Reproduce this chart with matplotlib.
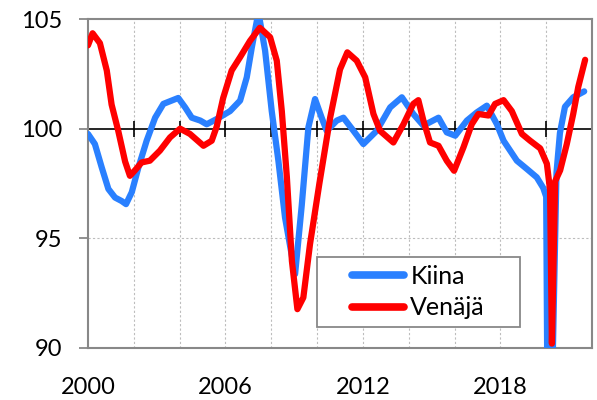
import matplotlib
matplotlib.use("Agg")
import matplotlib.pyplot as plt
from matplotlib.patches import Rectangle

plt.rcParams['font.family'] = ['Lato', 'DejaVu Sans']

# Kiina (China)
kiina_x = [2000.0, 2000.3, 2000.6, 2000.89, 2001.18, 2001.47, 2001.66, 2001.91, 2002.2, 2002.56,
           2002.93, 2003.29, 2003.65, 2003.94, 2004.24, 2004.53, 2004.9, 2005.18, 2005.62, 2006.2,
           2006.64, 2006.93, 2007.15, 2007.44, 2007.73, 2008.02, 2008.31, 2008.6, 2009.04, 2009.33,
           2009.62, 2009.91, 2010.2, 2010.42, 2010.86, 2011.15, 2011.59, 2012.02, 2012.6, 2013.19,
           2013.7, 2014.2, 2014.64, 2015.3, 2015.66, 2016.03, 2016.54, 2016.97, 2017.41, 2017.85,
           2018.14, 2018.72, 2019.16, 2019.59, 2019.87, 2020.0, 2020.1, 2020.45, 2020.6, 2020.82,
           2021.18, 2021.66]
kiina_y = [99.76, 99.3, 98.23, 97.25, 96.86, 96.7, 96.56, 97.1, 98.23, 99.45,
           100.5, 101.13, 101.28, 101.4, 100.97, 100.5, 100.37, 100.2, 100.44, 100.8,
           101.28, 102.34, 103.7, 105.3, 103.56, 100.8, 98.54, 95.95, 93.37, 96.5,
           100.06, 101.35, 100.5, 99.9, 100.37, 100.5, 99.9, 99.3, 99.9, 100.97,
           101.43, 100.67, 100.14, 100.5, 99.83, 99.68, 100.37, 100.74, 101.05, 100.2,
           99.45, 98.54, 98.16, 97.78, 97.3, 96.9, 80.0, 98.0, 99.8, 101.0,
           101.43, 101.7]

# Venäjä (Russia)
venaja_x = [2000.0, 2000.2, 2000.52, 2000.82, 2001.03, 2001.32, 2001.62, 2001.83, 2002.05, 2002.34,
            2002.7, 2003.14, 2003.58, 2004.02, 2004.45, 2005.04, 2005.4, 2005.62, 2005.9, 2006.27,
            2006.64, 2007.07, 2007.5, 2007.95, 2008.24, 2008.46, 2008.68, 2008.9, 2009.14, 2009.4,
            2009.69, 2010.1, 2010.57, 2011.0, 2011.32, 2011.73, 2012.1, 2012.46, 2012.75, 2013.33,
            2013.77, 2014.2, 2014.42, 2014.64, 2014.93, 2015.3, 2015.66, 2015.98, 2016.39, 2016.75,
            2017.04, 2017.48, 2017.77, 2018.14, 2018.5, 2018.94, 2019.3, 2019.74, 2020.03, 2020.17,
            2020.25, 2020.39, 2020.61, 2020.9, 2021.18, 2021.4, 2021.7]
venaja_y = [103.8, 104.35, 103.9, 102.65, 101.1, 99.9, 98.5, 97.85, 98.1, 98.46,
            98.54, 99.0, 99.6, 100.0, 99.76, 99.22, 99.45, 100.1, 101.4, 102.65,
            103.26, 104.0, 104.6, 104.17, 103.1, 100.8, 97.8, 93.97, 91.77, 92.3,
            94.73, 97.5, 100.5, 102.7, 103.48, 103.1, 102.34, 100.67, 99.9, 99.37,
            100.2, 101.13, 101.3, 100.37, 99.37, 99.22, 98.54, 98.08, 99.15, 100.2,
            100.67, 100.6, 101.13, 101.3, 100.8, 99.76, 99.45, 99.1, 98.4, 97.2,
            90.2, 97.6, 98.1, 99.3, 100.67, 101.9, 103.14]

series_names = ["Kiina", "Venäjä"]
series_colors = ["#2a80ff", "#ff0000"]
y_ticks = [90, 95, 100, 105]
x_label_years = [2000, 2006, 2012, 2018]
grid_years = list(range(2002, 2022, 2))
axis_tick_years = list(range(2000, 2023, 2))

fig = plt.figure(figsize=(5.97, 4.0), dpi=100)
ax = fig.add_axes([88/597, 1 - 348/400, 504/597, 329/400])

ax.set_xlim(2000, 2022)
ax.set_ylim(90, 105)

# grid
for gx in grid_years:
    ax.axvline(gx, color='#bdbdbd', lw=0.8, ls=(0, (2, 2)), zorder=0)
ax.axhline(95, color='#bdbdbd', lw=0.8, ls=(0, (2, 2)), zorder=0)

# 100 baseline with ticks
ax.axhline(100, color='black', lw=1.2, zorder=1)
ax.plot(axis_tick_years, [100] * len(axis_tick_years), ls='none', marker='|',
        ms=11, mew=1.2, color='black', zorder=1, clip_on=False)

ax.plot(kiina_x, kiina_y, color=series_colors[0], lw=4.5, label=series_names[0],
        solid_capstyle='round', solid_joinstyle='round', zorder=3)
ax.plot(venaja_x, venaja_y, color=series_colors[1], lw=4.5, label=series_names[1],
        solid_capstyle='round', solid_joinstyle='round', zorder=4)

for s in ax.spines.values():
    s.set_color('#888888')
    s.set_linewidth(1.5)

ax.set_yticks(y_ticks)
ax.set_yticklabels([str(v) for v in y_ticks])
ax.tick_params(axis='y', length=6.5, width=1.3, color='#888888', pad=12, labelsize=17)
ax.set_xticks(x_label_years)
ax.set_xticklabels([str(v) for v in x_label_years])
ax.tick_params(axis='x', length=0, pad=21, labelsize=17)

# legend frame (axes coords)
lx0, ly0, lw, lh = 0.4537, 0.0638, 0.403, 0.213
frame = Rectangle((lx0, ly0), lw, lh, transform=ax.transAxes, facecolor='white',
                  edgecolor='#888888', linewidth=1.3, zorder=6)
ax.add_patch(frame)
leg = ax.legend(loc='center', bbox_to_anchor=(lx0, ly0, lw, lh),
                fontsize=18, frameon=False, handlelength=2.1,
                handletextpad=0.25, borderaxespad=0, labelspacing=0.35, borderpad=0)
leg.set_zorder(7)
for h in leg.get_lines():
    h.set_linewidth(5.5)
    h.set_solid_capstyle('round')

fig.savefig("out.png", dpi=100)
